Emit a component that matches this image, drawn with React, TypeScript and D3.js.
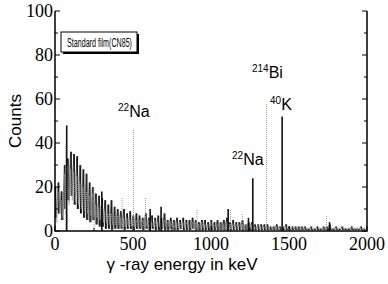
import React from 'react';
import * as d3 from 'd3';

// 20 keV bins starting at 0 keV
const binStart = d3.range(0, 2000, 20);

const blackHigh = [
  20, 22, 18, 30, 33, 36, 35, 34, 30, 28, 26, 22, 20, 17, 16, 15, 14, 12, 14, 11,
  10, 9, 10, 8, 9, 7, 8, 7, 6, 8, 6, 7, 6, 7, 6, 8, 5, 6, 5, 6,
  5, 6, 5, 5, 6, 5, 4, 5, 5, 4, 5, 4, 5, 4, 5, 6, 4, 5, 4, 4,
  5, 3, 4, 4, 3, 3, 3, 3, 3, 2, 2, 3, 2, 2, 3, 2, 2, 2, 2, 2,
  2, 1, 2, 1, 2, 1, 2, 2, 3, 1, 2, 1, 2, 1, 1, 2, 1, 1, 2, 1,
];
const blackLow = [
  6, 8, 5, 10, 14, 16, 12, 10, 8, 6, 5, 4, 5, 3, 2, 2, 1, 1, 0.5, 1,
  1, 1, 0.5, 1, 1, 0.5, 1, 1, 0.5, 1, 0.5, 1, 0.5, 0.5, 1, 0.5, 0.5, 1, 0.5, 0.5,
  1, 0.5, 0.5, 0.5, 1, 0.5, 0.5, 0.5, 0.5, 0.5, 0.5, 0.5, 0.5, 0.5, 0.5, 0.5, 0.5, 0.5, 0.5, 0.5,
  0.5, 0.5, 0.5, 0.5, 0.5, 0.5, 0.5, 0.5, 0.5, 0.5, 0.5, 0.5, 0.5, 0.5, 0.5, 0.5, 0.5, 0.5, 0.5, 0.5,
  0.5, 0.5, 0.5, 0.5, 0.5, 0.5, 0.5, 0.5, 0.5, 0.5, 0.5, 0.5, 0.5, 0.5, 0.5, 0.5, 0.5, 0.5, 0.5, 0.5,
];
const grayHigh = [
  16, 18, 14, 26, 30, 28, 27, 25, 22, 20, 18, 16, 17, 12, 11, 10, 9, 8, 8, 7,
  7, 6, 6, 6, 5, 5, 5, 5, 5, 5, 5, 4, 5, 4, 4, 5, 4, 4, 4, 4,
  4, 4, 4, 3, 4, 4, 3, 4, 3, 3, 4, 3, 3, 3, 3, 4, 3, 3, 3, 3,
  3, 3, 3, 3, 2, 3, 2, 2, 2, 2, 2, 2, 2, 2, 2, 2, 2, 2, 2, 2,
  1.5, 1.5, 2, 1.5, 1.5, 1.5, 1.5, 1.5, 2, 1.5, 1.5, 1.5, 1.5, 1.5, 1.5, 1.5, 1.5, 1.5, 1.5, 1.5,
];
const grayLow = [
  4, 8, 6, 8, 12, 14, 13, 12, 10, 9, 8, 7, 7, 6, 5, 4, 4, 3, 3, 3,
  3, 2, 2, 2, 2, 2, 2, 2, 2, 2, 2, 2, 2, 2, 2, 2, 2, 2, 1.5, 1.5,
  1.5, 1.5, 1.5, 1.5, 1.5, 1.5, 1.5, 1.5, 1.5, 1.5, 1.5, 1.5, 1.5, 1, 1, 1, 1, 1, 1, 1,
  1, 1, 1, 1, 1, 1, 1, 1, 1, 1, 1, 1, 1, 1, 1, 1, 1, 1, 1, 1,
  1, 1, 1, 1, 1, 1, 1, 1, 1, 1, 1, 1, 1, 1, 1, 1, 1, 1, 1, 1,
];

// sharp lines (keV, counts)
const blackPeakEnergy = [75, 300, 610, 680, 1110, 1240, 1268, 1456, 1760];
const blackPeakCounts = [48, 18, 10, 11, 10, 6, 24, 52, 4];
const grayPeakEnergy = [68, 250, 430, 503, 580, 910, 1125, 1200, 1356, 1740];
const grayPeakCounts = [39, 20, 15, 46, 15, 10, 10, 8, 58, 7];

const yTicks = [0, 20, 40, 60, 80, 100];
const xTicks = [0, 500, 1000, 1500, 2000];

const W = 388, H = 284;
const m = { left: 55, right: 21, top: 11, bottom: 53 };

const App: React.FC = () => {
  const x = d3.scaleLinear().domain([0, 2000]).range([m.left, W - m.right]);
  const y = d3.scaleLinear().domain([0, 100]).range([H - m.bottom, m.top]);
  const bw = x(20) - x(0);

  const zig = (hi: number[], lo: number[]) => {
    const pts: [number, number][] = [];
    binStart.forEach((e, i) => {
      pts.push([x(e), y(hi[i])]);
      pts.push([x(e) + bw * 0.5, y(lo[i])]);
    });
    return d3.line()(pts) || '';
  };

  const minor = d3.range(0, 101, 10);
  const serif = '"Liberation Serif", "Times New Roman", serif';
  const sans = '"Liberation Sans", Arial, sans-serif';

  return (
    <svg width={W} height={H} style={{ position: 'absolute', left: 0, top: 0, background: '#fff' }}>
      {/* spectra */}
      {binStart.map((e, i) => (
        <line key={'bb' + i} x1={x(e) + 0.6} x2={x(e) + 0.6} y1={y(blackLow[i])} y2={y(blackHigh[i])} stroke="#111" strokeWidth={1.3} />
      ))}
      <path d={zig(blackHigh, blackLow)} fill="none" stroke="#222" strokeWidth={0.8} />
      {binStart.map((e, i) => (
        <line key={'gb' + i} x1={x(e) + bw * 0.6} x2={x(e) + bw * 0.6} y1={y(grayLow[i])} y2={y(grayHigh[i])} stroke="#999" strokeWidth={1.2} strokeDasharray="1,1" />
      ))}
      <path d={zig(grayHigh, grayLow)} fill="none" stroke="#aaa" strokeWidth={0.8} strokeDasharray="1,1" />
      {blackPeakEnergy.map((e, i) => (
        <line key={'b' + i} x1={x(e)} x2={x(e)} y1={y(0)} y2={y(blackPeakCounts[i])} stroke="#111" strokeWidth={1.6} />
      ))}
      {grayPeakEnergy.map((e, i) => (
        <line key={'g' + i} x1={x(e)} x2={x(e)} y1={y(0)} y2={y(grayPeakCounts[i])} stroke="#999" strokeWidth={1} strokeDasharray="1,1" />
      ))}

      {/* frame */}
      <path d={`M${x(0)},${y(100)}V${y(0)}H${x(2000)}V${y(100)}`} fill="none" stroke="#000" strokeWidth={1.5} />
      {minor.map(v => (
        <g key={'t' + v}>
          <line x1={x(0)} x2={x(0) + (v % 20 === 0 ? 5 : 3)} y1={y(v)} y2={y(v)} stroke="#000" />
          <line x1={x(2000)} x2={x(2000) - (v % 20 === 0 ? 5 : 3)} y1={y(v)} y2={y(v)} stroke="#000" />
        </g>
      ))}
      {d3.range(0, 2001, 250).map(v => (
        <line key={'xt' + v} x1={x(v)} x2={x(v)} y1={y(0)} y2={y(0) - (v % 500 === 0 ? 5 : 3)} stroke="#000" />
      ))}

      {yTicks.map(v => (
        <text key={'yl' + v} x={x(0) - 2} y={y(v) + 6} textAnchor="end" fontFamily={serif} fontSize={18}>{v}</text>
      ))}
      {xTicks.map(v => (
        <text key={'xl' + v} x={x(v)} y={y(0) + 19} textAnchor="middle" fontFamily={serif} fontSize={18}>{v}</text>
      ))}

      <text transform={`translate(21,${y(50)}) rotate(-90)`} textAnchor="middle" fontFamily={sans} fontSize={17}>Counts</text>
      <text x={x(1000) - 29} y={270} textAnchor="middle" fontFamily={sans} fontSize={17}>γ -ray energy in keV</text>

      {/* legend box */}
      <rect x={63} y={34} width={76} height={20} fill="#000" />
      <rect x={61} y={32} width={76} height={20} fill="#fff" stroke="#000" strokeWidth={1} />
      <text x={67} y={46.5} fontFamily={sans} fontSize={12} textLength={65} lengthAdjust="spacingAndGlyphs">Standard film(CN85)</text>

      {/* annotations */}
      <text x={118} y={117} fontFamily={sans} fontSize={16}><tspan fontSize={10} dy={-6}>22</tspan><tspan dy={6}>Na</tspan></text>
      <text x={232} y={165} fontFamily={sans} fontSize={16}><tspan fontSize={10} dy={-6}>22</tspan><tspan dy={6}>Na</tspan></text>
      <text x={252} y={78} fontFamily={sans} fontSize={16}><tspan fontSize={10} dy={-6}>214</tspan><tspan dy={6}>Bi</tspan></text>
      <text x={270} y={110} fontFamily={sans} fontSize={16}><tspan fontSize={10} dy={-6}>40</tspan><tspan dy={6}>K</tspan></text>
    </svg>
  );
};

export default App;
